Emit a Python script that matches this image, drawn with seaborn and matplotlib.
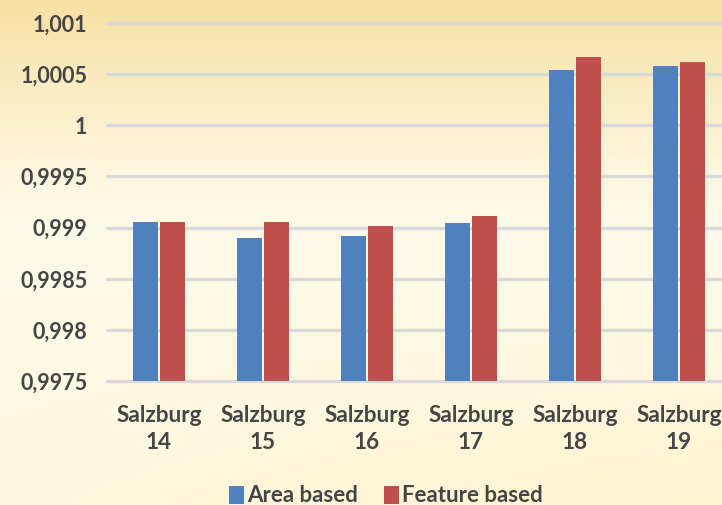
import numpy as np
import pandas as pd
import matplotlib
matplotlib.use("Agg")
import matplotlib.pyplot as plt
from matplotlib.ticker import FuncFormatter, MultipleLocator
import seaborn as sns

# Data
regions = ["Salzburg\n14", "Salzburg\n15", "Salzburg\n16", "Salzburg\n17", "Salzburg\n18", "Salzburg\n19"]
area_based = [0.999055, 0.998902, 0.998915, 0.999042, 1.000542, 1.000584]
feature_based = [0.999055, 0.999055, 0.999016, 0.999117, 1.000672, 1.000620]
series_names = ["Area based", "Feature based"]

df = pd.DataFrame({
    "region": regions * 2,
    "value": area_based + feature_based,
    "method": [series_names[0]] * len(regions) + [series_names[1]] * len(regions),
})

sns.set_theme(style="white")
plt.rcParams["font.family"] = ["Lato", "DejaVu Sans"]
text_color = "#454545"

W, H = 722, 505
fig = plt.figure(figsize=(W / 100, H / 100), dpi=100)

# Warm gradient background
bg = fig.add_axes([0, 0, 1, 1], zorder=-10)
ny, nx = 200, 200
yy, xx = np.mgrid[0:1:ny * 1j, 0:1:nx * 1j]
top = np.array([246, 224, 162]) / 255
mid = np.array([255, 250, 232]) / 255
bot = np.array([255, 244, 208]) / 255
t = yy
w_top = np.clip(1 - t / 0.45, 0, 1) ** 1.3
w_bot = np.clip((t - 0.55) / 0.45, 0, 1) * (0.4 + 0.6 * xx)
w_mid = np.clip(1 - np.maximum(w_top, w_bot), 0, 1)
img = (w_top[..., None] * top + w_bot[..., None] * bot + w_mid[..., None] * mid)
img = img / (w_top + w_bot + w_mid)[..., None]
bg.imshow(img, aspect="auto", extent=[0, 1, 0, 1], origin="upper")
bg.axis("off")

ax_left, ax_right = 107 / W, 731 / W
ax_bottom, ax_top = (H - 381) / H, (H - 23) / H
ax = fig.add_axes([ax_left, ax_bottom, ax_right - ax_left, ax_top - ax_bottom])
ax.patch.set_alpha(0)

sns.barplot(data=df, x="region", y="value", hue="method",
            palette=["#4F81BD", "#C0504D"], saturation=1, width=0.52, gap=0.1,
            edgecolor="none", ax=ax, zorder=3)

ax.set_xlim(-0.5, 5.5)
ax.set_ylim(0.9975, 1.001)
ax.yaxis.set_major_locator(MultipleLocator(0.0005))

def comma_fmt(v, pos):
    s = f"{v:.4f}".rstrip("0").rstrip(".")
    return s.replace(".", ",")

ax.yaxis.set_major_formatter(FuncFormatter(comma_fmt))
ax.grid(axis="y", color="#D9D9D9", linewidth=2.4, zorder=1)
ax.set_axisbelow(True)
for line in ax.get_ygridlines():
    line.set_clip_on(False)
for s in ax.spines.values():
    s.set_visible(False)

ax.set_xlabel("")
ax.set_ylabel("")
ax.tick_params(axis="y", length=0, pad=14, labelsize=15.5, labelcolor=text_color)
ax.tick_params(axis="x", length=0, pad=17, labelsize=16.3, labelcolor=text_color)
for lab in ax.get_yticklabels() + ax.get_xticklabels():
    lab.set_fontweight("bold")
for lab in ax.get_xticklabels():
    lab.set_linespacing(1.4)

handles, labels = ax.get_legend_handles_labels()
ax.legend_.remove()
leg = fig.legend(handles, labels, loc="center", bbox_to_anchor=(386 / W, 1 - 496 / H),
                 ncol=2, frameon=False, handlelength=0.65, handleheight=0.85,
                 handletextpad=0.15, columnspacing=1.2,
                 prop={"weight": "bold", "size": 16})
for txt in leg.get_texts():
    txt.set_color(text_color)

fig.savefig("out.png", dpi=100)
